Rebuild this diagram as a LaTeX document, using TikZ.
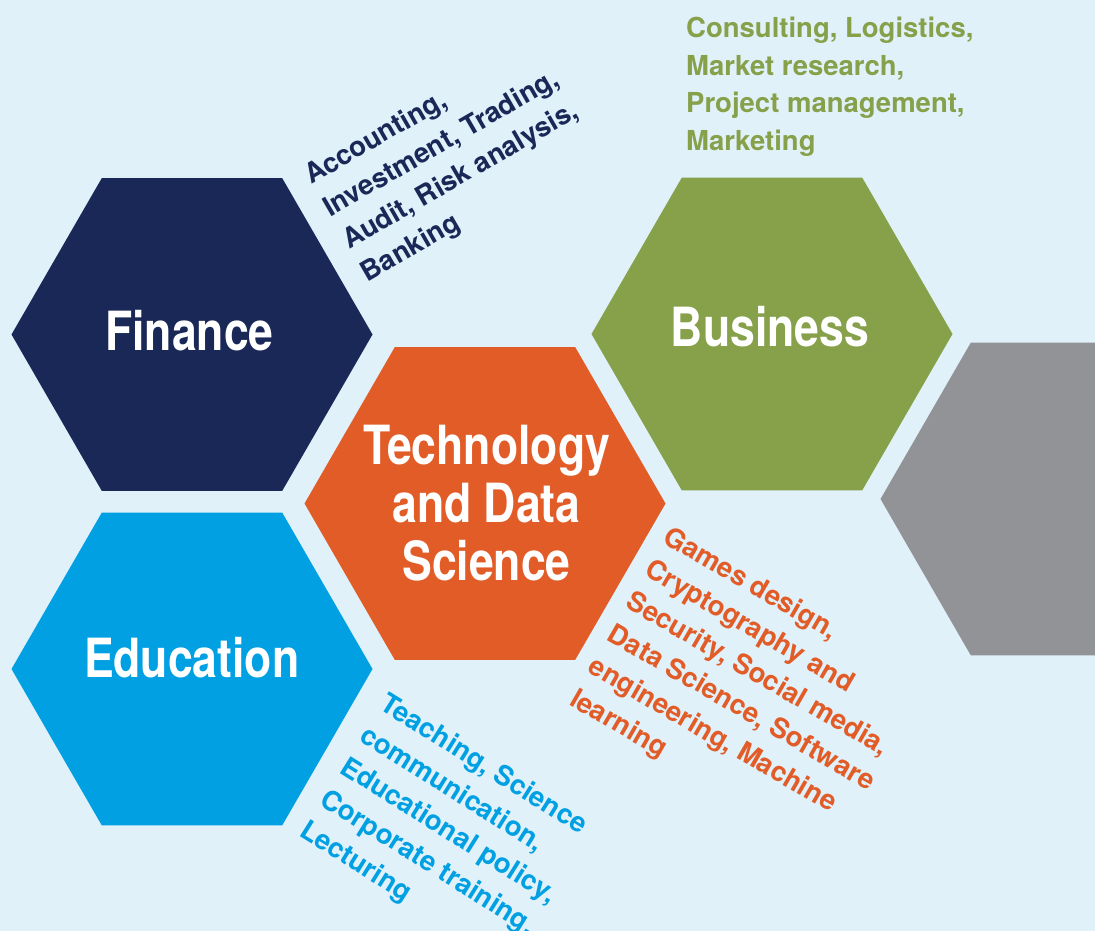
\documentclass[tikz,border=0pt]{standalone}
\usepackage{fontspec}
\setmainfont{TeX Gyre Heros}
\newfontfamily\condf{TeX Gyre Heros}[FakeStretch=0.825]
\usetikzlibrary{shapes.geometric}
\definecolor{bg}{HTML}{E0F1FA}
\definecolor{fin}{HTML}{1A2858}
\definecolor{bus}{HTML}{87A04A}
\definecolor{tech}{HTML}{E25C28}
\definecolor{edu}{HTML}{00A0E2}
\definecolor{grayhex}{HTML}{929397}
\begin{document}
\begin{tikzpicture}[x=1pt,y=-1pt,
  hex/.style={regular polygon, regular polygon sides=6, minimum size=361pt,
              inner sep=0pt, outer sep=0pt, draw=none},
  title/.style={text=white, font=\condf\bfseries\fontsize{54}{58.3}\selectfont,
                inner sep=0pt, align=center},
  list/.style={font=\bfseries\fontsize{27.5}{37.5}\selectfont, align=left,
               inner sep=0pt, anchor=north west}]
\useasboundingbox (0,0) rectangle (1095,931);
\fill[bg] (0,0) rectangle (1095,931);
\begin{scope}
\clip (0,0) rectangle (1095,931);
\node[hex, fill=fin]      (finhex)  at (192,334.5) {};
\node[hex, fill=bus]      (bushex)  at (772,334) {};
\node[hex, fill=tech]     (techhex) at (485,503.5) {};
\node[hex, fill=edu]      (eduhex)  at (192,669) {};
\node[hex, fill=grayhex]  (grayhx)  at (1061,499) {};
\end{scope}

\node[title, anchor=base] (fint)  at (189.5,350) {Finance};
\node[title, anchor=base] (bust)  at (770,346) {Business};
\node[title, anchor=base] (edut)  at (191.7,677.3) {Education};
\node[title, anchor=north] (techt) at (486.5,424.5) {Technology\\and Data\\Science};

\node[list, text=fin, rotate=30] (finl) at (301,167)
  {Accounting,\\Investment, Trading,\\Audit, Risk analysis,\\Banking};
\node[list, text=bus] (busl) at (686,17)
  {Consulting, Logistics,\\Market research,\\Project management,\\Marketing};
\node[list, text=tech, rotate=-30] (techl) at (672,524)
  {Games design,\\Cryptography and\\Security, Social media,\\Data Science, Software\\engineering, Machine\\learning};
\node[list, text=edu, rotate=-32] (edul) at (389,691)
  {Teaching, Science\\communication,\\Educational policy,\\Corporate training,\\Lecturing};
\end{tikzpicture}
\end{document}
